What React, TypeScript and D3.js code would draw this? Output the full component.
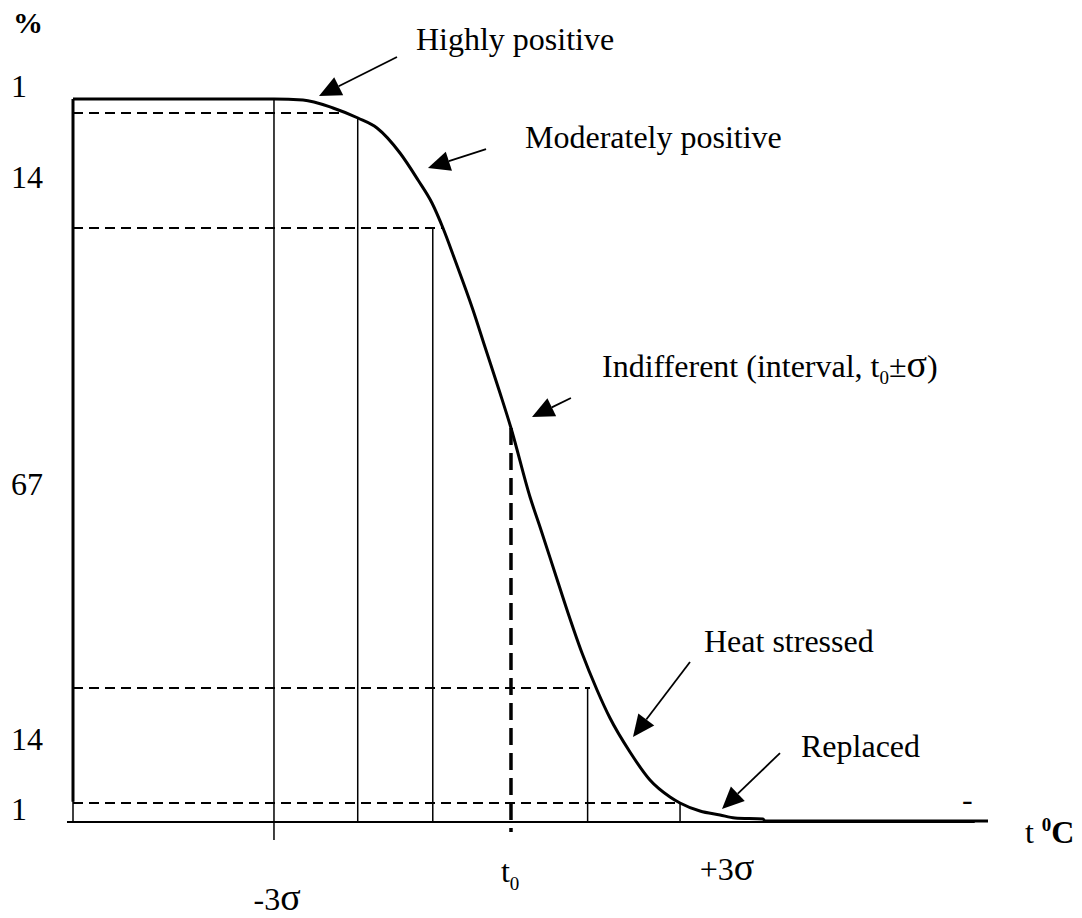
import React from 'react';
import * as d3 from 'd3';

const W = 1082;
const H = 918;
const FONT = "'Liberation Serif', 'Times New Roman', serif";

// temperature, in sigma from t0, and share of the population, %
const curveT = [-5.544, -3.0, -2.633, -2.253, -1.937, -1.696, -1.405, -1.177, -1.0, -0.861, -0.709, -0.481, -0.329, -0.139, 0, 0.241, 0.38, 0.557, 0.722, 0.899, 1.089, 1.253, 1.506, 1.759, 2.013, 2.139, 2.392, 2.646, 2.835, 3.19, 3.215, 6.038];
const curvePct = [100, 100, 99.86, 98.76, 97.37, 95.99, 92.53, 88.8, 85.62, 82.16, 77.73, 70.82, 65.7, 59.34, 54.5, 44.95, 40.39, 34.44, 28.91, 23.37, 18.26, 14.38, 9.68, 5.81, 3.46, 2.63, 1.52, 0.97, 0.55, 0.41, 0.14, 0.14];

// dashed levels and where they stop
const levelPct = [98.06, 82.16, 18.53, 2.63];
const levelEndT = [-2.17, -0.86, 1.0, 2.14];

// thin vertical guides
const guideT = [-3.0, -1.94, -0.99, 0.97, 2.14];
const guideTop = [100, 97.4, 82.16, 18.53, 2.63];
const guideBottom = [-2.49, 0, 0, 0, 0];

const t0Top = 54.5;
const t0Bottom = -1.38;

// zone shares printed on the left
const zoneLabels = ['1', '14', '67', '14', '1'];
const zoneLabelPct = [100.28, 87.69, 45.23, 10.0, 0.28];

// annotations
const annoLabels = ['Highly positive', 'Moderately positive', 'Indifferent (interval, t_0±σ)', 'Heat stressed', 'Replaced'];
const annoTextT = [-1.203, 0.177, 1.152, 2.443, 3.671];
const annoTextPct = [106.78, 93.22, 61.55, 23.51, 8.99];
const arrowFromT = [-1.443, -0.316, 0.759, 2.266, 3.405];
const arrowFromPct = [105.81, 93.08, 58.64, 22.13, 9.54];
const arrowToT = [-2.43, -1.051, 0.266, 1.544, 2.671];
const arrowToPct = [100.41, 90.46, 56.02, 11.76, 1.8];

const tMin = -5.544;
const tMax = 6.038;

const x = d3.scaleLinear().domain([tMin, tMax]).range([73, 988]);
const y = d3.scaleLinear().domain([0, 100]).range([822, 99]);

const Sigma = () => <tspan fontSize={38}>σ</tspan>;

const renderLabel = (s: string) => {
  const parts = s.split('_0');
  if (parts.length === 1) return s;
  const rest = parts[1].split('σ');
  return (
    <>
      {parts[0]}
      <tspan fontSize={19} dy={7}>0</tspan>
      <tspan dy={-7}>{rest[0]}</tspan>
      <Sigma />
      {rest[1]}
    </>
  );
};

const App = () => {
  const pts: [number, number][] = curveT.map((t, i) => [t, curvePct[i]]);
  const line = d3.line<[number, number]>()
    .x(d => x(d[0]))
    .y(d => y(d[1]))
    .curve(d3.curveMonotoneX);

  const arrows = annoLabels.map((_, i) => {
    const x1 = x(arrowFromT[i]), y1 = y(arrowFromPct[i]);
    const x2 = x(arrowToT[i]), y2 = y(arrowToPct[i]);
    const ang = Math.atan2(y2 - y1, x2 - x1);
    const len = 22, hw = 10;
    const bx = x2 - len * Math.cos(ang), by = y2 - len * Math.sin(ang);
    const px = -Math.sin(ang) * hw, py = Math.cos(ang) * hw;
    return { x1, y1, bx, by, head: `${x2},${y2} ${bx + px},${by + py} ${bx - px},${by - py}` };
  });

  return (
    <svg width={W} height={H} style={{ position: 'absolute', left: 0, top: 0, background: '#fff' }} fontFamily={FONT}>
      {/* dashed levels */}
      {levelPct.map((p, i) => (
        <line key={'l' + i} x1={x(tMin)} x2={x(levelEndT[i])} y1={y(p)} y2={y(p)}
          stroke="#000" strokeWidth={2} strokeDasharray="10,6" />
      ))}
      {/* guides */}
      {guideT.map((t, i) => (
        <line key={'g' + i} x1={x(t)} x2={x(t)} y1={y(guideTop[i])} y2={y(guideBottom[i])}
          stroke="#000" strokeWidth={1.5} />
      ))}
      <line x1={x(0)} x2={x(0)} y1={y(t0Top)} y2={y(t0Bottom)} stroke="#000" strokeWidth={3.5} strokeDasharray="17,8" />

      {/* axes */}
      <line x1={x(-5.62)} x2={x(5.87)} y1={y(0)} y2={y(0)} stroke="#000" strokeWidth={2.2} />
      <line x1={x(tMin)} x2={x(tMin)} y1={y(0)} y2={y(100)} stroke="#000" strokeWidth={1.5} />
      <line x1={x(tMin)} x2={x(tMin)} y1={y(2.8)} y2={y(100)} stroke="#000" strokeWidth={3} />

      {/* curve */}
      <path d={line(pts) ?? ''} fill="none" stroke="#000" strokeWidth={3} strokeLinejoin="round" />

      {/* arrows */}
      {arrows.map((a, i) => (
        <g key={'a' + i}>
          <line x1={a.x1} y1={a.y1} x2={a.bx} y2={a.by} stroke="#000" strokeWidth={1.8} />
          <polygon points={a.head} fill="#000" />
        </g>
      ))}
      {annoLabels.map((s, i) => (
        <text key={'t' + i} x={x(annoTextT[i])} y={y(annoTextPct[i])} fontSize={32}>{renderLabel(s)}</text>
      ))}

      {/* y labels */}
      <text x={x(-6.304)} y={y(109.1)} fontSize={30} fontWeight="bold">%</text>
      {zoneLabels.map((s, i) => (
        <text key={'z' + i} x={x(-6.33)} y={y(zoneLabelPct[i])} fontSize={32}>{s}</text>
      ))}

      {/* x labels */}
      <text x={x(-2.96)} y={y(-12.17)} fontSize={32} textAnchor="middle">-3<Sigma /></text>
      <text x={x(-0.127)} y={y(-8.3)} fontSize={32}>t<tspan fontSize={19} dy={8}>0</tspan></text>
      <text x={x(2.39)} y={y(-8.02)} fontSize={32}>+3<Sigma /></text>
      <text x={x(6.506)} y={y(-2.9)} fontSize={32}>
        t <tspan fontWeight="bold" fontSize={19} dy={-12}>0</tspan><tspan fontWeight="bold" dy={12}>C</tspan>
      </text>
      <text x={x(5.71)} y={y(1.66)} fontSize={32}>-</text>
    </svg>
  );
};

export default App;
